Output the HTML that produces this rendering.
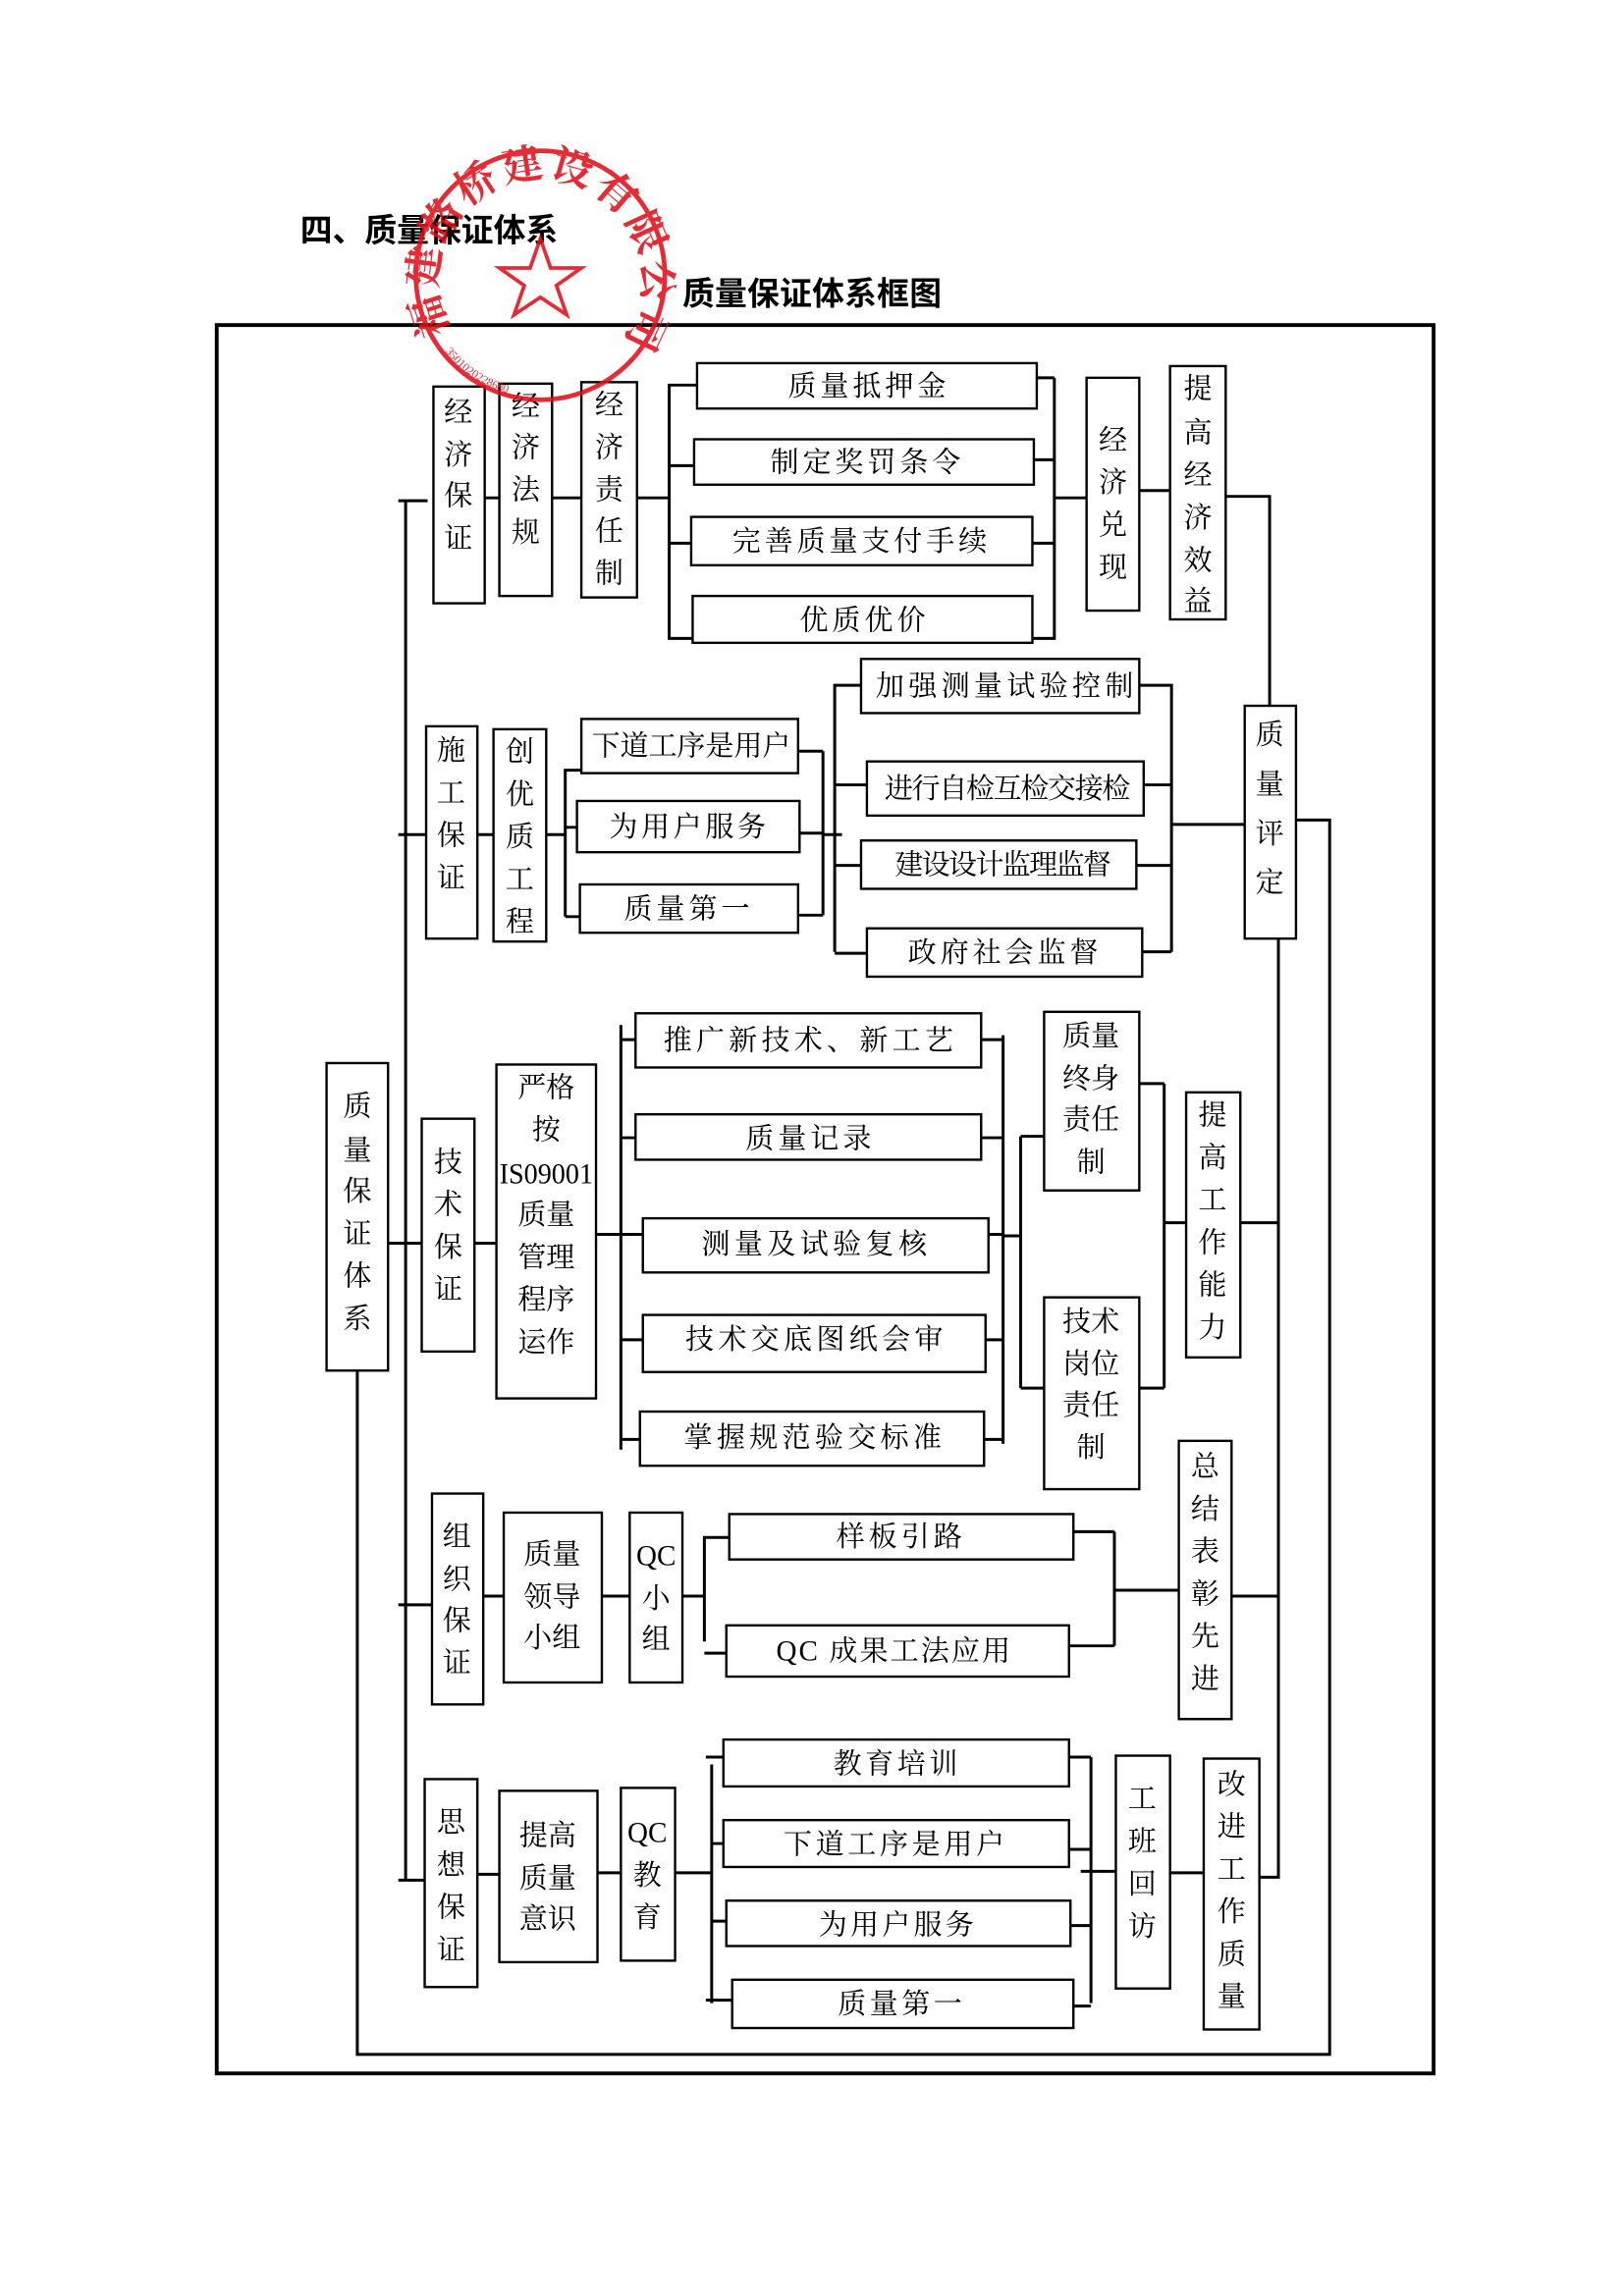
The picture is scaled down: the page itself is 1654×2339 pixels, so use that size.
<!DOCTYPE html>
<html><head><meta charset="utf-8"><style>
html,body{margin:0;padding:0;background:#fff;}
svg{display:block;}
text{font-family:"Liberation Serif","Noto Serif CJK SC","Noto Sans CJK SC",serif;fill:#000;}
.b{fill:#fff;stroke:#000;stroke-width:1.6;}
.l{stroke:#000;stroke-width:2;fill:none;}
.h{font-size:19.5px;}
.v{font-size:19.5px;text-anchor:middle;}
</style></head><body>
<svg width="1654" height="2339" viewBox="0 0 1109 1568" preserveAspectRatio="none" xmlns="http://www.w3.org/2000/svg">
<text x="205" y="165" textLength="176" style="font-family:'Liberation Sans','Noto Sans CJK SC',sans-serif;font-weight:bold;font-size:22px">四、质量保证体系</text>
<text x="466" y="208" textLength="177" style="font-family:'Liberation Sans','Noto Sans CJK SC',sans-serif;font-weight:bold;font-size:22px">质量保证体系框图</text>
<rect x="148" y="222" width="831" height="1194" fill="none" stroke="#000" stroke-width="2.6"/>

<!-- spine & main -->
<g class="l">
<path d="M277 342V1284M272 342H292M272 570H291M265 849H288M272 1096H295M272 1284H290"/>
<path d="M244 936V1403H908V560H885"/>
<path d="M873 641V1283M847 835H873M841 1090H873M860 1282H873"/>
</g>
<rect class="b" x="223" y="726" width="42" height="210"/>
<g class="v"><text x="244" y="762">质</text><text x="244" y="792">量</text><text x="244" y="820">保</text><text x="244" y="849">证</text><text x="244" y="878">体</text><text x="244" y="907">系</text></g>

<!-- Row1 -->
<g class="l">
<path d="M331 340H341M377 340H397M435 340H457M457 262V437M457 263H476M457 318H474M457 371H472M457 436H473"/>
<path d="M708 258H720M706 314H720M705 371H720M705 436H720M720 258V437M720 340H742M778 335H799M837 339H867V484"/>
</g>
<rect class="b" x="296" y="264" width="35" height="148"/>
<g class="v"><text x="313" y="288">经</text><text x="313" y="317">济</text><text x="313" y="345">保</text><text x="313" y="374">证</text></g>
<rect class="b" x="341" y="262" width="36" height="145"/>
<g class="v"><text x="359" y="284">经</text><text x="359" y="312">济</text><text x="359" y="341">法</text><text x="359" y="370">规</text></g>
<rect class="b" x="397" y="261" width="38" height="147"/>
<g class="v"><text x="416" y="283">经</text><text x="416" y="312">济</text><text x="416" y="341">责</text><text x="416" y="369">任</text><text x="416" y="398">制</text></g>
<rect class="b" x="476" y="248" width="232" height="31"/><text class="h" x="538" y="270" textLength="108">质量抵押金</text>
<rect class="b" x="474" y="300" width="232" height="31"/><text class="h" x="526" y="322" textLength="130">制定奖罚条令</text>
<rect class="b" x="472" y="353" width="233" height="33"/><text class="h" x="500" y="376" textLength="174">完善质量支付手续</text>
<rect class="b" x="473" y="407" width="232" height="32"/><text class="h" x="546" y="430" textLength="86">优质优价</text>
<rect class="b" x="742" y="258" width="36" height="159"/>
<g class="v"><text x="760" y="307">经</text><text x="760" y="336">济</text><text x="760" y="365">兑</text><text x="760" y="394">现</text></g>
<rect class="b" x="799" y="250" width="38" height="173"/>
<g class="v"><text x="818" y="272">提</text><text x="818" y="302">高</text><text x="818" y="331">经</text><text x="818" y="360">济</text><text x="818" y="389">效</text><text x="818" y="417">益</text></g>

<!-- Row2 -->
<g class="l">
<path d="M326 570H337M373 570H386M386 525V626M386 526H397M386 565H394M386 626H396"/>
<path d="M545 513H562M546 569H562M545 625H562M562 513V625M562 570H575M570 467V650M570 468H588M570 536H592M570 591H588M570 651H592"/>
<path d="M778 468H800M781 536H800M776 591H800M780 650H800M800 467V650M800 563H850"/>
</g>
<rect class="b" x="291" y="496" width="35" height="145"/>
<g class="v"><text x="308" y="519">施</text><text x="308" y="548">工</text><text x="308" y="577">保</text><text x="308" y="606">证</text></g>
<rect class="b" x="337" y="498" width="36" height="145"/>
<g class="v"><text x="355" y="520">创</text><text x="355" y="549">优</text><text x="355" y="578">质</text><text x="355" y="607">工</text><text x="355" y="636">程</text></g>
<rect class="b" x="397" y="491" width="148" height="37"/><text class="h" x="404" y="516" textLength="136">下道工序是用户</text>
<rect class="b" x="394" y="547" width="152" height="35"/><text class="h" x="416" y="571" textLength="107">为用户服务</text>
<rect class="b" x="396" y="604" width="149" height="33"/><text class="h" x="426" y="627" textLength="86">质量第一</text>
<rect class="b" x="588" y="450" width="190" height="37"/><text class="h" x="598" y="475" textLength="176">加强测量试验控制</text>
<rect class="b" x="592" y="520" width="189" height="37"/><text class="h" x="604" y="545" textLength="168">进行自检互检交接检</text>
<rect class="b" x="588" y="574" width="188" height="33"/><text class="h" x="611" y="597" textLength="148">建设设计监理监督</text>
<rect class="b" x="592" y="634" width="188" height="33"/><text class="h" x="620" y="657" textLength="130">政府社会监督</text>
<rect class="b" x="850" y="482" width="35" height="159"/>
<g class="v"><text x="867" y="508">质</text><text x="867" y="542">量</text><text x="867" y="576">评</text><text x="867" y="609">定</text></g>

<!-- Row3 -->
<g class="l">
<path d="M324 849H339M407 843H424M424 700V990M424 710H434M424 777H434M424 843H439M424 915H439M424 983H437"/>
<path d="M670 710H685M670 777H685M675 843H685M673 915H685M672 983H685M685 707V986M685 844H697M697 776V948M697 776H713M697 948H713M778 740H795M778 948H795M795 740V948M795 835H810"/>
</g>
<rect class="b" x="288" y="764" width="36" height="159"/>
<g class="v"><text x="306" y="800">技</text><text x="306" y="829">术</text><text x="306" y="858">保</text><text x="306" y="887">证</text></g>
<rect class="b" x="339" y="727" width="68" height="228"/>
<g class="v"><text x="373" y="749">严格</text><text x="373" y="778">按</text><text x="373" y="808" textLength="64" lengthAdjust="spacingAndGlyphs">IS09001</text><text x="373" y="836">质量</text><text x="373" y="865">管理</text><text x="373" y="894">程序</text><text x="373" y="923">运作</text></g>
<rect class="b" x="434" y="692" width="236" height="37"/><text class="h" x="453" y="717" textLength="198">推广新技术、新工艺</text>
<rect class="b" x="434" y="761" width="236" height="31"/><text class="h" x="509" y="784" textLength="86">质量记录</text>
<rect class="b" x="439" y="832" width="236" height="37"/><text class="h" x="479" y="856" textLength="154">测量及试验复核</text>
<rect class="b" x="439" y="898" width="234" height="39"/><text class="h" x="468" y="921" textLength="176">技术交底图纸会审</text>
<rect class="b" x="437" y="964" width="235" height="37"/><text class="h" x="467" y="988" textLength="176">掌握规范验交标准</text>
<rect class="b" x="713" y="691" width="65" height="122"/>
<g class="v"><text x="745" y="714">质量</text><text x="745" y="743">终身</text><text x="745" y="771">责任</text><text x="745" y="800">制</text></g>
<rect class="b" x="713" y="886" width="65" height="131"/>
<g class="v"><text x="745" y="909">技术</text><text x="745" y="938">岗位</text><text x="745" y="966">责任</text><text x="745" y="995">制</text></g>
<rect class="b" x="810" y="746" width="37" height="181"/>
<g class="v"><text x="828" y="768">提</text><text x="828" y="797">高</text><text x="828" y="826">工</text><text x="828" y="855">作</text><text x="828" y="884">能</text><text x="828" y="913">力</text></g>

<!-- Row4 -->
<g class="l">
<path d="M330 1090H344M411 1090H430M466 1090H481M481 1049V1121M481 1050H498M481 1129H496M733 1046H761M730 1124H761M761 1046V1124M761 1086H805"/>
</g>
<rect class="b" x="295" y="1020" width="35" height="144"/>
<g class="v"><text x="312" y="1056">组</text><text x="312" y="1085">织</text><text x="312" y="1113">保</text><text x="312" y="1142">证</text></g>
<rect class="b" x="344" y="1033" width="67" height="116"/>
<g class="v"><text x="377" y="1068">质量</text><text x="377" y="1097">领导</text><text x="377" y="1125">小组</text></g>
<rect class="b" x="430" y="1033" width="36" height="116"/>
<g class="v"><text x="448" y="1069">QC</text><text x="448" y="1098">小</text><text x="448" y="1126">组</text></g>
<rect class="b" x="498" y="1034" width="235" height="31"/><text class="h" x="571" y="1056" textLength="86">样板引路</text>
<rect class="b" x="496" y="1110" width="234" height="35"/><text class="h" x="530" y="1134" textLength="160">QC 成果工法应用</text>
<rect class="b" x="805" y="984" width="36" height="190"/>
<g class="v"><text x="823" y="1008">总</text><text x="823" y="1037">结</text><text x="823" y="1066">表</text><text x="823" y="1095">彰</text><text x="823" y="1124">先</text><text x="823" y="1153">进</text></g>

<!-- Row5 -->
<g class="l">
<path d="M326 1280H341M408 1279H424M461 1279H486M486 1205V1368M482 1200H494M486 1259H494M486 1312H496M482 1366H500"/>
<path d="M730 1200H745M730 1263H745M731 1315H745M733 1370H745M745 1200V1368M738 1278H762M799 1279H822"/>
</g>
<rect class="b" x="290" y="1215" width="36" height="142"/>
<g class="v"><text x="308" y="1251">思</text><text x="308" y="1280">想</text><text x="308" y="1309">保</text><text x="308" y="1338">证</text></g>
<rect class="b" x="341" y="1223" width="67" height="117"/>
<g class="v"><text x="374" y="1260">提高</text><text x="374" y="1289">质量</text><text x="374" y="1317">意识</text></g>
<rect class="b" x="424" y="1221" width="37" height="118"/>
<g class="v"><text x="442" y="1258">QC</text><text x="442" y="1287">教</text><text x="442" y="1316">育</text></g>
<rect class="b" x="494" y="1188" width="236" height="32"/><text class="h" x="569" y="1211" textLength="85">教育培训</text>
<rect class="b" x="494" y="1243" width="236" height="32"/><text class="h" x="535" y="1266" textLength="151">下道工序是用户</text>
<rect class="b" x="496" y="1298" width="235" height="31"/><text class="h" x="559" y="1321" textLength="106">为用户服务</text>
<rect class="b" x="500" y="1352" width="233" height="33"/><text class="h" x="572" y="1375" textLength="85">质量第一</text>
<rect class="b" x="762" y="1199" width="37" height="159"/>
<g class="v"><text x="780" y="1235">工</text><text x="780" y="1264">班</text><text x="780" y="1293">回</text><text x="780" y="1322">访</text></g>
<rect class="b" x="822" y="1201" width="38" height="185"/>
<g class="v"><text x="841" y="1225">改</text><text x="841" y="1254">进</text><text x="841" y="1283">工</text><text x="841" y="1312">作</text><text x="841" y="1341">质</text><text x="841" y="1370">量</text></g>

<!-- stamp -->
<g opacity="0.88">
<circle cx="369" cy="188" r="85" fill="none" stroke="#e0101a" stroke-width="3.2"/>
<path id="arc" d="M308 226 A70 70 0 1 1 430 226" fill="none"/>
<text style="font-size:28px;font-weight:bold;fill:#e0101a"><textPath href="#arc" textLength="300" lengthAdjust="spacing">福建路桥建设有限公司</textPath></text>
<path id="arc2" d="M304 240 A80 80 0 0 0 404 262" fill="none"/>
<text style="font-size:8px;fill:#e0101a"><textPath href="#arc2">3501020228680</textPath></text>
<polygon points="369,163 376,183 397,183 380,195 387,215 369,203 351,215 358,195 341,183 362,183" fill="none" stroke="#e0101a" stroke-width="2.5"/>
</g>
</svg>
</body></html>
